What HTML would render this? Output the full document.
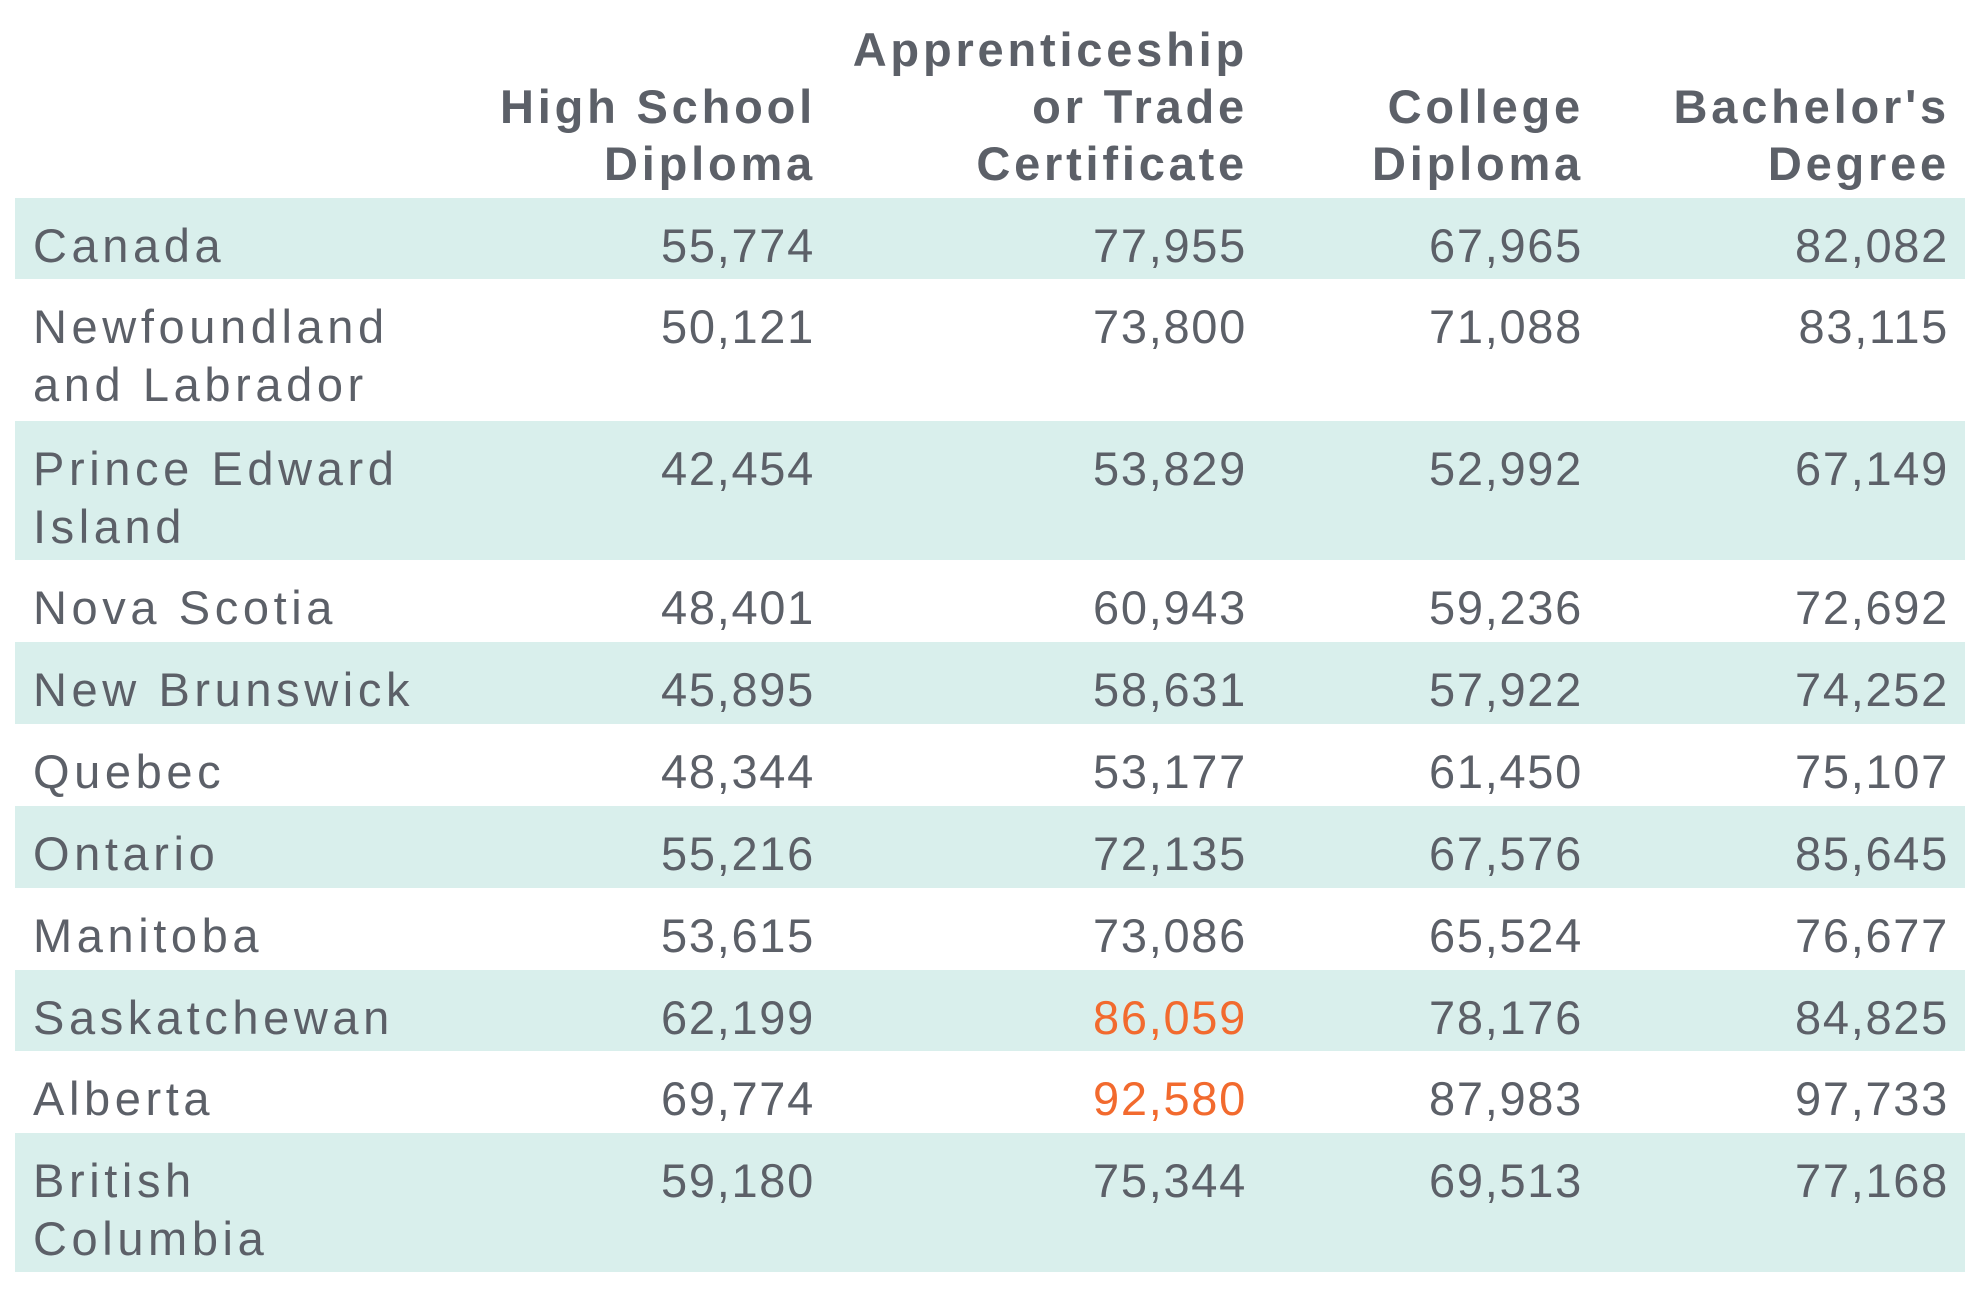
<!DOCTYPE html>
<html><head><meta charset="utf-8"><style>
body{margin:0;width:1980px;height:1292px;background:#fff;position:relative;overflow:hidden;font-family:"Liberation Sans",sans-serif;color:#5c6068}
.h{position:absolute;font-weight:bold;font-size:47px;line-height:57px;text-align:right;letter-spacing:3.8px;color:#5c6068}
.r{position:absolute;left:15px;width:1950px}
.b{background:#d9efec}
.c{position:absolute;top:19px;font-size:47px;line-height:58px;letter-spacing:1.7px;white-space:nowrap}
.n{left:18px;letter-spacing:4.6px}
.v1{right:1150px}.v2{right:718px}.v3{right:382px}.v4{right:16px}
.v1,.v2,.v3,.v4{text-align:right}
.o{color:#f26a2e}
</style></head><body>
<div class="h" style="right:1164px;top:78px">High School<br>Diploma</div>
<div class="h" style="right:732px;top:21px">Apprenticeship<br>or Trade<br>Certificate</div>
<div class="h" style="right:396px;top:78px">College<br>Diploma</div>
<div class="h" style="right:30px;top:78px">Bachelor's<br>Degree</div>

<div class="r b" style="top:198px;height:81px"><div class="c n">Canada</div><div class="c v1">55,774</div><div class="c v2">77,955</div><div class="c v3">67,965</div><div class="c v4">82,082</div></div>
<div class="r" style="top:279px;height:142px"><div class="c n">Newfoundland<br>and Labrador</div><div class="c v1">50,121</div><div class="c v2">73,800</div><div class="c v3">71,088</div><div class="c v4">83,115</div></div>
<div class="r b" style="top:421px;height:139px"><div class="c n">Prince Edward<br>Island</div><div class="c v1">42,454</div><div class="c v2">53,829</div><div class="c v3">52,992</div><div class="c v4">67,149</div></div>
<div class="r" style="top:560px;height:82px"><div class="c n">Nova Scotia</div><div class="c v1">48,401</div><div class="c v2">60,943</div><div class="c v3">59,236</div><div class="c v4">72,692</div></div>
<div class="r b" style="top:642px;height:82px"><div class="c n">New Brunswick</div><div class="c v1">45,895</div><div class="c v2">58,631</div><div class="c v3">57,922</div><div class="c v4">74,252</div></div>
<div class="r" style="top:724px;height:82px"><div class="c n">Quebec</div><div class="c v1">48,344</div><div class="c v2">53,177</div><div class="c v3">61,450</div><div class="c v4">75,107</div></div>
<div class="r b" style="top:806px;height:82px"><div class="c n">Ontario</div><div class="c v1">55,216</div><div class="c v2">72,135</div><div class="c v3">67,576</div><div class="c v4">85,645</div></div>
<div class="r" style="top:888px;height:82px"><div class="c n">Manitoba</div><div class="c v1">53,615</div><div class="c v2">73,086</div><div class="c v3">65,524</div><div class="c v4">76,677</div></div>
<div class="r b" style="top:970px;height:81px"><div class="c n">Saskatchewan</div><div class="c v1">62,199</div><div class="c v2 o">86,059</div><div class="c v3">78,176</div><div class="c v4">84,825</div></div>
<div class="r" style="top:1051px;height:82px"><div class="c n">Alberta</div><div class="c v1">69,774</div><div class="c v2 o">92,580</div><div class="c v3">87,983</div><div class="c v4">97,733</div></div>
<div class="r b" style="top:1133px;height:139px"><div class="c n">British<br>Columbia</div><div class="c v1">59,180</div><div class="c v2">75,344</div><div class="c v3">69,513</div><div class="c v4">77,168</div></div>
</body></html>
